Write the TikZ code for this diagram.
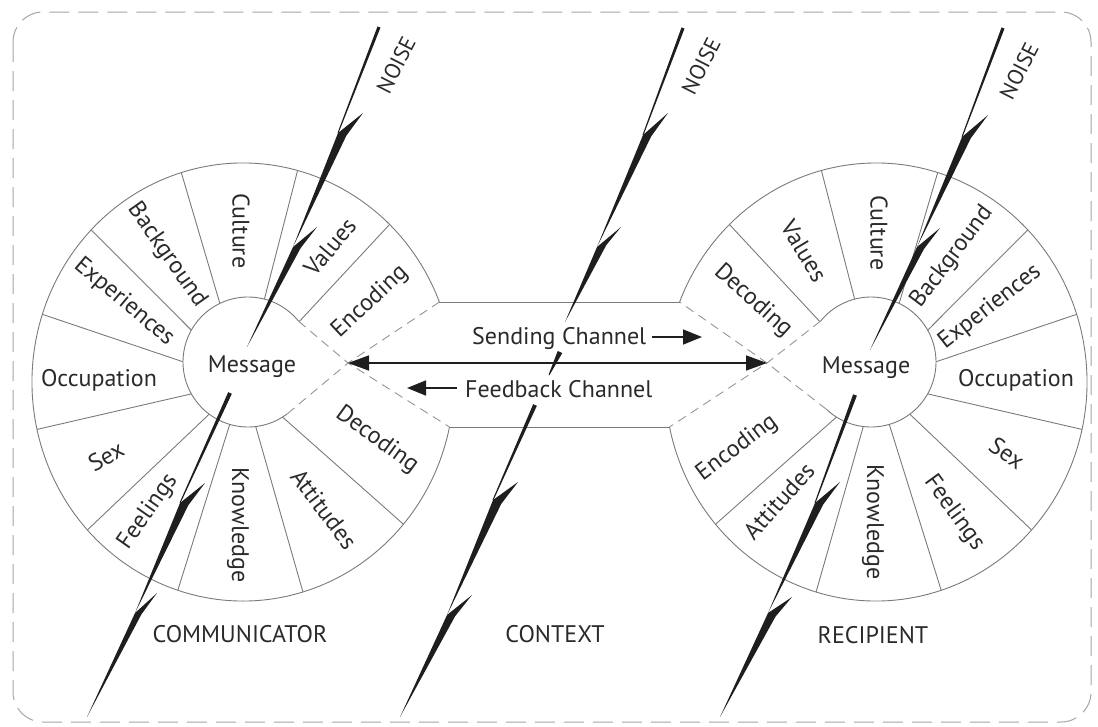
\documentclass[tikz,border=0pt]{standalone}
\usepackage{fontspec}
\setmainfont{PT Sans}
\usetikzlibrary{arrows.meta,calc}
\definecolor{txt}{HTML}{2A2A2A}
\definecolor{wline}{HTML}{7A7A7A}
\definecolor{dline}{HTML}{959595}
\definecolor{boltc}{HTML}{1E1E1E}
\definecolor{framec}{HTML}{A5A5A5}
\newcommand{\taper}[4]{\fill[boltc] ($(#1)!#3!90:(#2)$) -- ($(#1)!#3!-90:(#2)$) -- ($(#2)!#4!90:(#1)$) -- ($(#2)!#4!-90:(#1)$) -- cycle;}
\newcommand{\boltwedge}[3]{\fill[boltc] (#1) -- (#2) -- ($(#1)!0.55!(#2) + 0.12*(#3) - 0.12*(#1)$) -- (#3) -- cycle;}
\begin{document}
\begin{tikzpicture}[x=1pt,y=1pt,
  lbl/.style={text=txt, font=\fontsize{24}{28}\selectfont, inner sep=0pt},
  noise/.style={text=txt, font=\fontsize{22}{26}\selectfont, inner sep=0pt, rotate=63},
  wl/.style={draw=wline, line width=0.9pt},
  dl/.style={draw=dline, line width=0.9pt, dash pattern=on 9pt off 6pt},
  arr/.style={draw=boltc, line width=1.6pt},
  bigtips/.style={{Triangle[length=21pt,width=15pt]}-{Triangle[length=21pt,width=15pt]}},
  onetip/.style={-{Triangle[length=19pt,width=15pt]}}]
\useasboundingbox (0,0) rectangle (1098,-726);
\draw[framec, line width=1pt, dash pattern=on 20pt off 9pt, rounded corners=30pt] (13,-12) rectangle (1091,-722);

% ---------- left wheel ----------
\coordinate (OL) at (243,-382);
\coordinate (IL) at (248,-362);
\foreach \t in {46,75,107,136,162,192.5,222.5,252,286.5,319.5}
  \draw[wl] (OL) -- ++(\t:211 and 219);
\draw[wl] (OL) ++(21.4:211 and 219) arc[start angle=21.4, end angle=348.14, x radius=211, y radius=219];
\fill[white] (IL) circle[radius=65];
\draw[wl] (IL) ++(38.8:65) arc[start angle=38.8, end angle=307.4, radius=65];
\coordinate (ILu) at ($(IL)+(38.8:65)$);
\coordinate (ILd) at ($(IL)+(-52.6:65)$);

% ---------- right wheel ----------
\coordinate (OR) at (876,-382);
\coordinate (IR) at (871,-362);
\foreach \t in {134,105,73,44,18,-12.5,-42.5,-72,-106.5,-139.5}
  \draw[wl] (OR) -- ++(\t:211 and 219);
\draw[wl] (OR) ++(-168.14:211 and 219) arc[start angle=-168.14, end angle=158.6, x radius=211, y radius=219];
\fill[white] (IR) circle[radius=65];
\draw[wl] (IR) ++(-133.3:65) arc[start angle=-133.3, end angle=141.2, radius=65];
\coordinate (IRu) at ($(IR)+(141.2:65)$);
\coordinate (IRd) at ($(IR)+(226.7:65)$);

% ---------- channel ----------
\coordinate (CTL) at (439.4,-302);
\coordinate (CBL) at (449.5,-427);
\coordinate (CTR) at (679.6,-302);
\coordinate (CBR) at (669.5,-427);
\coordinate (VL) at (348,-363);
\coordinate (VR) at (767,-363);
\draw[wl] (CTL) -- (CTR);
\draw[wl] (CBL) -- (CBR);
\draw[dl] (ILu) -- (VL) -- (CBL);
\draw[dl] (ILd) -- (VL) -- (CTL);
\draw[dl] (IRu) -- (VR) -- (CBR);
\draw[dl] (IRd) -- (VR) -- (CTR);
\draw[arr, bigtips] (VL) -- (VR);
\coordinate (sa1) at (652,-337);
\coordinate (sa2) at (702,-337);
\coordinate (fa1) at (457,-388);
\coordinate (fa2) at (407,-388);
\draw[arr, onetip] (sa1) -- (sa2);
\draw[arr, onetip] (fa1) -- (fa2);
\node[lbl, anchor=base west] (send) at (472,-344) {Sending Channel};
\node[lbl, anchor=base west] (feed) at (465,-397) {Feedback Channel};

% ---------- labels left ----------
\node[lbl, anchor=base] (mL) at (252,-372) {Message};
\node[lbl, rotate=-90] (l1) at (241,-231) {Culture};
\node[lbl, rotate=50] (l2) at (330,-247) {Values};
\node[lbl, rotate=43] (l3) at (370,-302) {Encoding};
\node[lbl, rotate=-55] (l4) at (167,-255) {Background};
\node[lbl, rotate=-40] (l5) at (124,-302) {Experiences};
\node[lbl] (l6) at (99,-380) {Occupation};
\node[lbl, rotate=30] (l7) at (106,-456) {Sex};
\node[lbl, rotate=55] (l8) at (148,-512) {Feelings};
\node[lbl, rotate=-90] (l9) at (238,-525) {Knowledge};
\node[lbl, rotate=-53] (l10) at (324,-509) {Attitudes};
\node[lbl, rotate=-36] (l11) at (377,-440) {Decoding};

% ---------- labels right ----------
\node[lbl, anchor=base] (mR) at (866,-373) {Message};
\node[lbl, rotate=-90] (r1) at (879,-233) {Culture};
\node[lbl, rotate=-59] (r2) at (804,-251) {Values};
\node[lbl, rotate=-42] (r3) at (753,-301) {Decoding};
\node[lbl, rotate=53] (r4) at (952,-257) {Background};
\node[lbl, rotate=38] (r5) at (990,-307) {Experiences};
\node[lbl] (r6) at (1016,-380) {Occupation};
\node[lbl, rotate=-35] (r7) at (1007,-453) {Sex};
\node[lbl, rotate=-54] (r8) at (954,-513) {Feelings};
\node[lbl, rotate=-90] (r9) at (873,-522) {Knowledge};
\node[lbl, rotate=48] (r10) at (779,-501) {Attitudes};
\node[lbl, rotate=37] (r11) at (737,-448) {Encoding};

% ---------- bottom labels ----------
\node[lbl, anchor=base] (comm) at (240,-642) {COMMUNICATOR};
\node[lbl, anchor=base] (ctx) at (555,-642) {CONTEXT};
\node[lbl, anchor=base] (rec) at (873,-643) {RECIPIENT};

% ---------- noise bolts ----------
% bolt 1
\coordinate (a0) at (379,-27);
\coordinate (a1) at (338,-133);
\coordinate (b1) at (363,-113);
\coordinate (a2) at (293,-247);
\coordinate (b2) at (317,-227);
\coordinate (ae) at (247,-347);
\coordinate (as) at (230,-393);
\coordinate (a3) at (180,-503);
\coordinate (b3) at (205,-483);
\coordinate (a4) at (135,-613);
\coordinate (b4) at (157,-593);
\coordinate (a5) at (87,-717);
\taper{a0}{a1}{1.6pt}{0.5pt}
\boltwedge{a1}{b1}{a2}
\boltwedge{a2}{b2}{ae}
\taper{as}{a3}{2pt}{0.5pt}
\boltwedge{a3}{b3}{a4}
\boltwedge{a4}{b4}{a5}
% bolt 2
\coordinate (c0) at (683,-28);
\coordinate (c1) at (643,-135);
\coordinate (d1) at (668,-113);
\coordinate (c2) at (597,-247);
\coordinate (d2) at (621,-227);
\coordinate (ce) at (565,-322);
\coordinate (cm1) at (560,-352);
\coordinate (cm2) at (549,-375);
\coordinate (cs) at (535,-405);
\coordinate (c3) at (493,-500);
\coordinate (d3) at (518,-482);
\coordinate (c4) at (447,-615);
\coordinate (d4) at (472,-595);
\coordinate (c5) at (400,-717);
\taper{c0}{c1}{1.6pt}{0.5pt}
\boltwedge{c1}{d1}{c2}
\boltwedge{c2}{d2}{ce}
\taper{cm1}{cm2}{2.5pt}{0.5pt}
\taper{cs}{c3}{2pt}{0.5pt}
\boltwedge{c3}{d3}{c4}
\boltwedge{c4}{d4}{c5}
% bolt 3
\coordinate (e0) at (1003,-28);
\coordinate (e1) at (962,-137);
\coordinate (f1) at (988,-115);
\coordinate (e2) at (917,-247);
\coordinate (f2) at (940,-228);
\coordinate (ee) at (870,-350);
\coordinate (es) at (855,-395);
\coordinate (e3) at (815,-503);
\coordinate (f3) at (840,-482);
\coordinate (e4) at (768,-613);
\coordinate (f4) at (792,-597);
\coordinate (e5) at (720,-717);
\taper{e0}{e1}{1.6pt}{0.5pt}
\boltwedge{e1}{f1}{e2}
\boltwedge{e2}{f2}{ee}
\taper{es}{e3}{2pt}{0.5pt}
\boltwedge{e3}{f3}{e4}
\boltwedge{e4}{f4}{e5}

\node[noise] (n1) at (396,-65) {NOISE};
\node[noise] (n2) at (701,-66) {NOISE};
\node[noise] (n3) at (1019,-71) {NOISE};
\end{tikzpicture}
\end{document}
